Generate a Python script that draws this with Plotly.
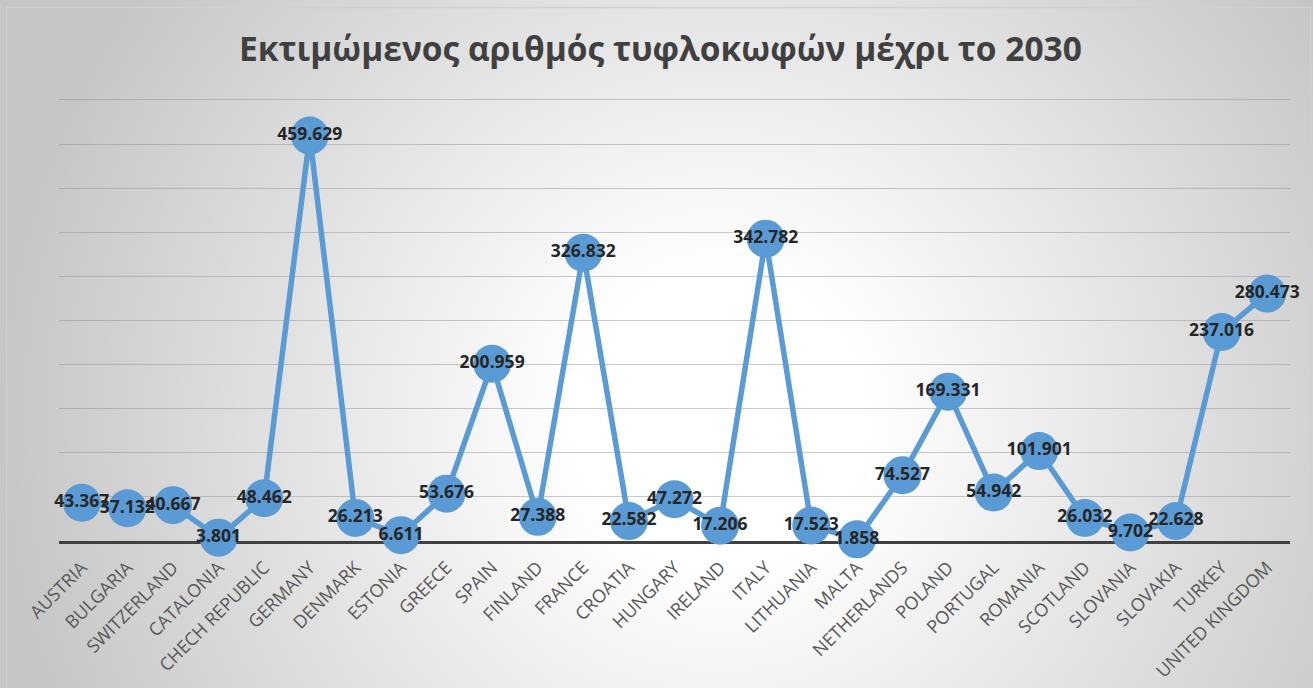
import plotly.graph_objects as go
import urllib.parse

countries = ["AUSTRIA", "BULGARIA", "SWITZERLAND", "CATALONIA", "CHECH REPUBLIC",
             "GERMANY", "DENMARK", "ESTONIA", "GREECE", "SPAIN", "FINLAND", "FRANCE",
             "CROATIA", "HUNGARY", "IRELAND", "ITALY", "LITHUANIA", "MALTA",
             "NETHERLANDS", "POLAND", "PORTUGAL", "ROMANIA", "SCOTLAND", "SLOVANIA",
             "SLOVAKIA", "TURKEY", "UNITED KINGDOM"]
values = [43.367, 37.132, 40.667, 3.801, 48.462, 459.629, 26.213, 6.611, 53.676,
          200.959, 27.388, 326.832, 22.582, 47.272, 17.206, 342.782, 17.523, 1.858,
          74.527, 169.331, 54.942, 101.901, 26.032, 9.702, 22.628, 237.016, 280.473]
title_text = "Εκτιμώμενος αριθμός τυφλοκωφών μέχρι το 2030"

W, H = 1313, 688
L, R, T, B = 59, 23, 96, 147
pw, ph = W - L - R, H - T - B

svg = (
    f'<svg xmlns="http://www.w3.org/2000/svg" width="{W}" height="{H}">'
    '<defs><radialGradient id="g" gradientUnits="userSpaceOnUse" cx="720" cy="420" r="720">'
    '<stop offset="0" stop-color="#ffffff"/>'
    '<stop offset="0.2" stop-color="#ffffff"/>'
    '<stop offset="1" stop-color="#c6c6c6"/>'
    '</radialGradient></defs>'
    f'<rect x="0" y="0" width="{W}" height="{H}" fill="url(#g)"/></svg>'
)
src = "data:image/svg+xml;charset=utf-8," + urllib.parse.quote(svg)

def px_x(p):
    return (p - L) / pw

def px_y(p):
    return (H - B - p) / ph

fig = go.Figure()
fig.add_trace(go.Scatter(
    x=countries, y=values, mode="lines+markers+text",
    line=dict(color="#5B9BD5", width=5.5),
    marker=dict(size=38, color="#5B9BD5", line=dict(width=0)),
    texttemplate="%{y:.3f}", textposition="middle center",
    textfont=dict(family="Open Sans", size=17.5, color="#262626", weight="bold"),
    cliponaxis=False, hoverinfo="skip",
))

fig.update_layout(
    width=W, height=H,
    margin=dict(l=L, r=R, t=T, b=B, autoexpand=False),
    paper_bgcolor="white", plot_bgcolor="rgba(0,0,0,0)",
    showlegend=False,
    title=dict(text=title_text, x=0.503, xanchor="center", xref="container",
               y=1 - 49 / H, yanchor="middle", yref="container",
               font=dict(family="Open Sans", size=33.5, color="#404040", weight="bold")),
    images=[dict(source=src, xref="paper", yref="paper",
                 x=px_x(0), y=px_y(0), sizex=W / pw, sizey=H / ph,
                 xanchor="left", yanchor="top", sizing="stretch", layer="below")],
    shapes=[dict(type="rect", xref="paper", yref="paper",
                 x0=px_x(6.5), x1=px_x(1310.5), y0=px_y(720), y1=px_y(7.5),
                 line=dict(color="#d0d0d0", width=1.5), fillcolor="rgba(0,0,0,0)",
                 layer="below")],
)
fig.update_xaxes(
    type="category", range=[-0.5, len(countries) - 0.5],
    showgrid=False, showline=True, linecolor="#404040", linewidth=3,
    tickangle=-45, ticks="", layer="below traces", ticklabelstandoff=6,
    tickfont=dict(family="Open Sans", size=18, color="#595959"),
)
fig.update_yaxes(
    range=[0, 504.5], dtick=50, showticklabels=False, zeroline=False,
    showgrid=True, gridcolor="rgba(140,140,140,0.45)", gridwidth=1.2,
    layer="below traces",
)

fig.write_html("out.html", config={"displayModeBar": False},
               post_script="document.body.style.margin='0';")
